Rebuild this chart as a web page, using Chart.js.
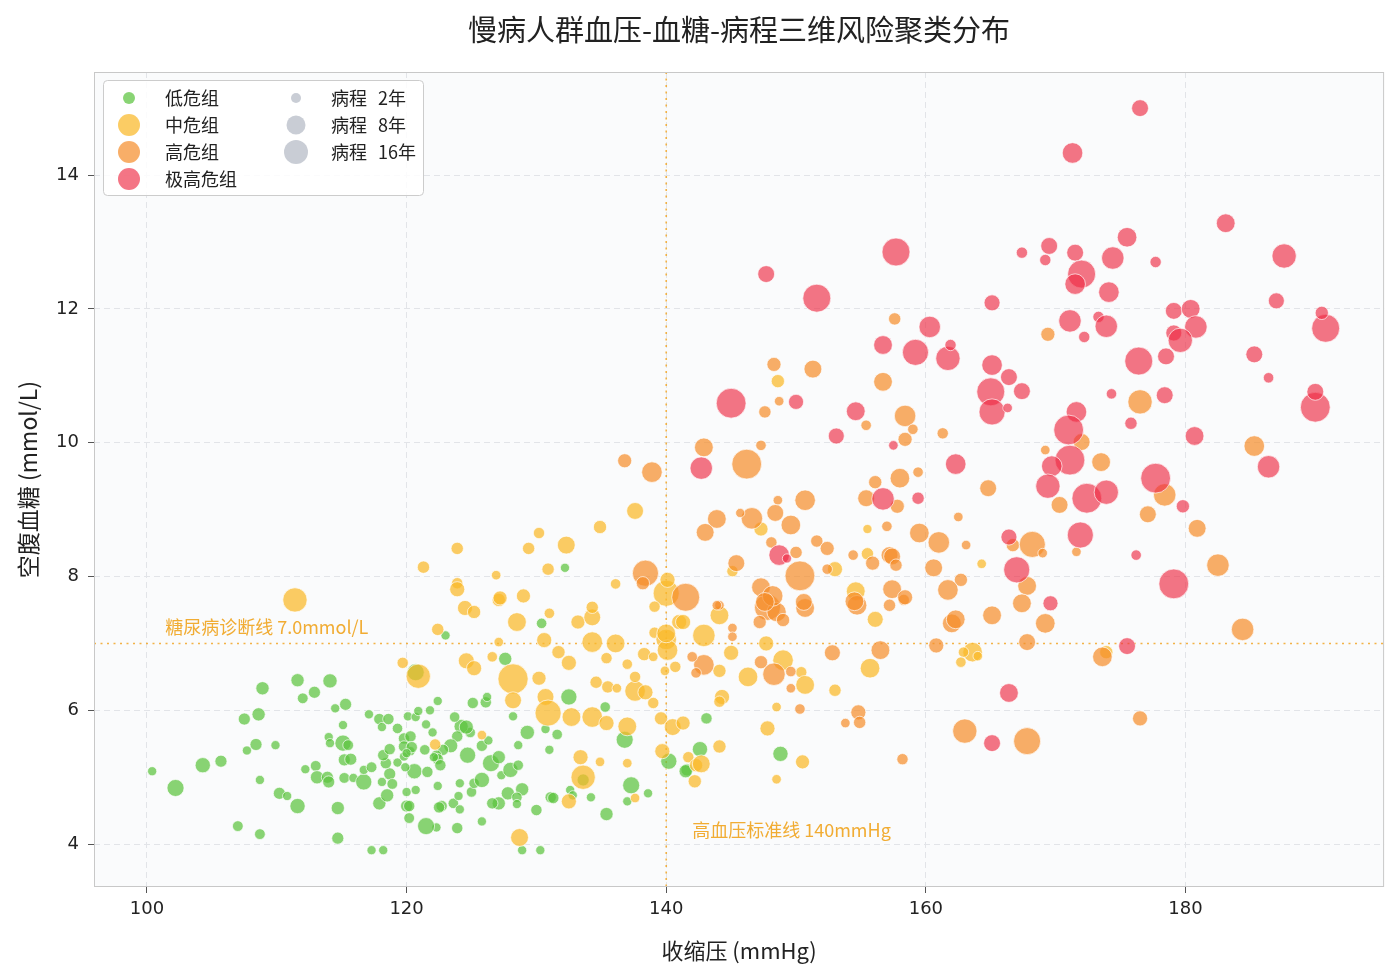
<!DOCTYPE html>
<html><head><meta charset="utf-8">
<script src="https://cdn.jsdelivr.net/npm/chart.js@4.4.1/dist/chart.umd.min.js"></script>
<style>html,body{margin:0;padding:0;background:#fff;}#wrap{width:1400px;height:978px;position:relative;}</style>
</head><body><div id="wrap"><canvas id="c"></canvas></div>
<script>
// [收缩压 mmHg, 空腹血糖 mmol/L, 病程 年]
const lowRisk = [
[100.4,5.09,1],[102.2,4.84,4.5],[104.3,5.18,3.5],[105.7,5.24,2],[107.0,4.27,1.5],[108.7,4.15,1.5],[107.7,5.40,1],[108.4,5.49,2],
[107.5,5.87,2],[108.6,5.94,2.5],[108.9,6.33,2.5],[109.9,5.48,1],[108.7,4.96,1],[110.2,4.76,2],[110.8,4.72,1],[111.6,4.57,3.5],
[111.6,6.45,2.5],[112.0,6.18,1.5],[112.9,6.27,2],[114.1,6.44,3],[114.5,6.03,1],[115.3,6.09,2],[115.1,5.78,1],[114.0,5.60,1],
[114.1,5.51,1],[115.1,5.51,4],[115.5,5.48,1.5],[115.2,5.26,2],[115.7,5.27,2],[112.2,5.12,1],[113.0,5.17,1.5],[113.1,5.00,2.5],
[113.9,5.00,2],[114.0,4.93,2],[115.2,4.99,1.5],[115.9,4.99,1],[116.7,4.93,4],[116.7,5.11,1],[117.3,5.15,1.5],[114.7,4.54,2.5],
[114.7,4.09,2],[117.3,3.91,1],[118.2,3.91,1],[117.9,4.61,2.5],[118.5,4.73,2.5],[118.1,4.93,1],[118.7,5.05,2],[118.9,4.90,1.5],
[120.0,4.57,2],[120.2,4.39,1.5],[120.0,4.78,1],[120.6,5.09,3.5],[119.3,5.22,1],[119.9,5.15,1],[118.4,5.21,1.7],[118.2,5.33,1.7],
[118.7,5.42,1.7],[119.8,5.58,1.7],[119.8,5.46,1.7],[119.8,5.31,1],[120.3,5.39,1],[119.3,5.73,1.4],[117.9,5.87,1.7],[118.6,5.87,1.7],
[118.1,5.75,1],[117.1,5.94,1],[120.1,5.91,1],[120.7,5.90,1],
[123.0,7.12,1],[130.4,7.30,1.4],[127.6,6.77,2.5],[132.5,6.20,4],[135.3,6.05,1.4],[122.4,6.14,1],[125.1,6.11,1.7],[126.1,6.12,1.7],
[126.2,6.20,1],[128.2,5.91,1],[129.3,5.67,3],[130.7,5.72,1],[131.6,5.64,1.4],[128.6,5.48,1],[131.0,5.41,1],[136.8,5.56,4.5],
[140.2,5.24,4],[141.6,5.11,2],[137.3,4.88,4.5],[138.6,4.76,1],[137.0,4.64,1],[135.4,4.45,2.5],[134.2,4.70,1],[132.6,4.81,1],
[132.8,4.73,1],[131.1,4.70,1.7],[131.3,4.69,1.7],[130.0,4.51,1.7],[128.9,3.91,1],[130.3,3.91,1],[128.9,4.82,2.5],[127.8,4.76,2.5],
[128.5,4.70,1.4],[127.1,4.61,2.5],[126.6,4.61,1.7],[125.8,4.34,1],[123.9,4.24,1.7],[122.3,4.25,1],[121.5,4.27,4.5],[120.2,4.57,1.7],
[122.7,4.57,1.7],[122.5,4.55,1.7],[123.6,4.61,1.4],[124.1,4.52,1],[125.0,4.78,1.4],[124.0,4.72,1],[124.1,4.91,1],[125.2,4.91,1.4],
[125.8,4.96,3.5],[126.5,5.21,4.5],[127.1,5.30,2.5],[127.3,5.03,1],[128.0,5.11,3.5],[128.6,5.18,1.4],[128.5,4.60,1],[124.7,5.33,4],
[124.9,5.67,1.4],[124.2,5.76,2.9],[124.6,5.75,2.9],[123.9,5.61,1.7],[123.7,5.90,1.4],[125.8,5.47,1.7],[126.3,5.55,1],[123.4,5.47,2.9],
[122.8,5.41,1.7],[122.3,5.33,1.4],[122.4,5.27,1.7],[122.6,5.18,1.7],[122.1,5.30,1],[121.4,5.41,1.4],[122.0,5.67,1],[121.5,5.79,1],
[121.8,6.00,1],[120.9,5.99,1],[120.3,5.61,1.7],[120.4,5.45,1.7],[121.6,5.08,1.7],[120.7,4.81,1],[122.4,4.87,1],[120.0,5.36,1],
[132.2,8.13,1],[120.7,6.57,4.5],[143.1,5.88,1.7],[142.6,5.42,3.5],[141.5,5.09,2.5],[148.8,5.35,3.5],[133.6,4.96,2]
];
const midRisk = [
[111.4,7.65,10],[120.9,6.51,10],[124.5,7.53,3.4],[125.2,7.47,2.5],[127.1,7.65,2.5],[128.5,7.32,5.6],[131.0,7.45,1.4],[122.4,7.21,2.1],
[127.1,7.02,1.1],[119.7,6.71,1.7],[124.6,6.74,3.9],[125.2,6.63,3.4],[126.6,6.80,1.4],[128.2,6.47,16],[128.2,6.15,4.4],[130.2,6.48,2.9],
[130.7,6.20,4.4],[130.9,5.96,11.7],[132.7,5.90,5.6],[134.3,5.90,6.9],[135.4,5.81,3.4],[137.0,5.76,5.6],[133.4,5.30,3.4],[133.6,5.00,10],
[134.9,5.23,1.1],[137.0,5.21,1.1],[132.5,4.64,3.4],[137.6,4.69,1.1],[128.7,4.10,5],[125.8,5.63,1.1],[122.2,5.49,1.7],[134.6,6.42,2.1],
[135.5,6.35,2.1],[136.2,6.33,1.1],[137.6,6.29,6.9],[138.4,6.27,3.4],[139.0,6.11,1.7],[137.6,6.50,1.7],[139.6,5.88,2.5],[140.5,5.75,4.4],
[141.3,5.81,2.9],[139.7,5.39,3.4],[141.7,5.30,1.7],[142.3,5.18,2.5],[142.2,4.94,2.5],[140.7,6.65,1.7],[139.9,6.59,1.1],[130.6,7.05,3.4],
[131.7,6.87,2.5],[133.2,7.32,2.9],[134.3,7.39,4.4],[134.3,7.54,2.1],[134.3,7.02,6.9],[135.4,6.78,1.7],[136.1,7.00,5.6],[137.0,6.69,1.4],
[138.3,6.84,2.5],[139.0,6.80,1.1],[139.1,7.16,1.7],[140.0,7.06,6.9],[140.1,6.90,6.9],[140.0,7.15,5.6],[141.0,7.32,3.4],[132.5,6.71,3.4],
[137.6,8.98,4.4],[134.9,8.74,2.5],[130.2,8.65,1.7],[129.4,8.42,2.1],[132.3,8.47,5],[123.9,8.42,2.1],[121.3,8.14,2.1],[126.9,8.02,1.1],
[130.9,8.11,2.1],[123.9,7.90,1.7],[123.9,7.81,3.4],[127.2,7.68,2.9],[129.0,7.71,2.9],[136.1,7.89,1.4],[140.0,7.75,11.7],[140.1,7.95,3.4],
[139.1,7.55,1.7],[144.1,7.42,5.6],[142.9,7.12,8.4],[141.3,7.32,3.4],[147.7,7.00,3.4],[145.0,6.86,3.4],[144.1,6.59,2.5],[146.3,6.50,6.2],
[149.0,6.75,6.9],[150.4,6.57,1.7],[150.7,6.38,5.6],[144.3,6.20,3.4],[144.1,6.13,1.7],[147.8,5.73,3.4],[148.5,6.05,1.1],[144.1,5.46,2.5],
[142.7,5.20,5],[148.5,4.97,1.1],[150.5,5.23,2.9],[155.7,6.63,6.2],[153.0,6.30,2.1],[156.1,7.36,3.9],[163.6,6.87,6.2],[162.9,6.87,1.4],
[164.0,6.81,1.1],[162.7,6.72,1.4],[148.6,10.92,2.5],[147.3,8.71,2.9],[164.3,8.19,1.1],[155.5,8.71,1],[155.5,8.34,2.1],[153.0,8.11,3.4],
[145.1,8.08,1.7],[154.6,7.78,5.6],[173.9,6.87,2.5]
];
const highRisk = [
[136.8,9.73,2.9],[138.9,9.56,6.9],[138.4,8.05,11.7],[138.2,7.90,2.5],[141.5,7.69,13.6],[144.1,7.57,1.1],[147.8,7.54,11.7],[148.5,7.47,6],
[150.7,7.53,5.6],[147.2,7.32,2.5],[149.0,7.35,2.5],[145.1,7.23,1.1],[145.1,7.10,1.1],[142.9,6.68,6.9],[142.0,6.80,1.4],[142.3,6.56,1.4],
[147.3,6.72,2.5],[148.3,6.54,8.4],[149.6,6.58,1.4],[149.6,6.33,1.1],[150.3,6.02,1.4],[152.8,6.86,3.9],[156.5,6.90,5.6],[154.8,5.97,3.4],
[154.9,5.82,2.1],[153.8,5.81,1.1],[158.2,5.27,1.7],[154.7,7.57,6.2],[157.2,7.57,2.1],[158.3,7.65,1.7],[162.0,7.30,5.6],[162.3,7.36,5.6],
[160.8,6.97,3.4],[163.0,5.69,10],[165.1,7.42,5.6],[148.3,11.17,2.9],[151.3,11.10,5],[156.7,10.91,5.6],[147.6,10.46,2.1],[148.7,10.62,1.1],
[155.4,10.26,1.4],[158.4,10.40,7.6],[159.0,10.20,1.4],[158.4,10.05,2.9],[161.3,10.14,1.7],[142.9,9.93,5.6],[146.2,9.68,15.6],[147.3,9.96,1.4],
[164.8,9.32,4.4],[158.0,9.47,6.2],[159.4,9.56,1.4],[156.1,9.41,2.5],[155.4,9.17,4.4],[157.8,9.05,2.9],[150.7,9.14,6.9],[148.6,9.14,1.1],
[148.4,8.95,4.4],[146.6,8.87,7.6],[145.7,8.95,1],[149.6,8.77,6.2],[143.9,8.86,5.6],[143.0,8.66,5],[159.5,8.65,6.2],[161.0,8.51,7.6],
[162.5,8.89,1.1],[163.1,8.47,1.1],[157.0,8.75,1.4],[151.6,8.53,2.1],[152.4,8.42,2.9],[154.4,8.32,1.4],[155.9,8.20,2.9],[157.2,8.32,4.4],
[157.4,8.30,4.4],[157.7,8.17,2.1],[152.4,8.11,1.4],[150.0,8.36,2.1],[150.3,8.01,15.6],[145.4,8.20,4.4],[148.1,8.51,1.7],[160.6,8.13,5],
[162.7,7.95,2.5],[161.7,7.80,6.9],[157.4,7.81,5.6],[158.4,7.69,3.4],[154.5,7.63,5.6],[150.6,7.62,4.4],[147.3,7.84,5.6],[148.2,7.71,6.9],
[147.6,7.62,5.6],[143.9,7.57,1.1],[166.7,8.47,2.5],[168.2,8.48,11.7],[169.0,8.35,1.1],[171.6,8.37,1.1],[167.8,7.86,5.6],[167.4,7.60,5.6],
[169.2,7.30,6.2],[167.8,7.02,4.4],[173.6,6.80,6.2],[182.5,8.17,8.4],[184.4,7.21,8.4],[167.8,5.54,12.6],[176.5,5.88,3.4],[172.0,10.01,4.4],
[169.2,9.89,1.1],[170.3,9.07,4.4],[173.5,9.71,5.6],[176.5,10.61,10],[178.4,9.22,8.4],[177.1,8.93,4.4],[180.9,8.72,5],[185.3,9.95,6.9],
[169.4,11.62,2.9],[157.6,11.85,2.1]
];
const veryHighRisk = [
[176.5,15.00,4.4],[171.3,14.33,6.9],[157.7,12.85,13.6],[147.7,12.52,4.4],[151.6,12.16,13.6],[183.1,13.28,5.6],[175.5,13.07,6.2],[169.5,12.94,4.4],
[167.4,12.84,1.7],[169.2,12.73,1.7],[171.5,12.84,4.4],[174.4,12.76,8.4],[172.0,12.52,13.6],[171.5,12.37,6.9],[177.7,12.70,1.7],[174.1,12.25,6.9],
[187.6,12.79,10],[187.0,12.12,3.9],[165.1,12.09,3.9],[160.3,11.73,7.6],[156.7,11.46,5.6],[159.2,11.35,11.7],[161.7,11.26,10],[161.9,11.46,1.7],
[171.1,11.82,8.4],[173.3,11.88,1.7],[173.9,11.74,8.4],[172.2,11.58,1.7],[176.4,11.22,13.6],[178.5,11.29,4.4],[179.1,11.97,4.4],[180.4,12.00,5.6],
[180.8,11.73,8.4],[179.1,11.64,3.9],[179.6,11.53,10],[185.3,11.32,4.4],[190.8,11.71,13.6],[190.5,11.94,2.5],[165.1,11.16,6.9],[165.0,10.76,13.6],
[165.1,10.46,11.7],[166.4,10.98,4.4],[167.4,10.77,4.4],[166.3,10.52,1.1],[171.6,10.46,6.9],[171.0,10.19,15.6],[171.1,9.74,15.6],[169.7,9.65,6.9],
[169.4,9.35,10],[172.4,9.17,15.6],[173.9,9.26,10],[174.3,10.73,1.4],[178.4,10.71,4.4],[175.8,10.29,2.1],[180.7,10.10,5.6],[177.7,9.47,15.6],
[179.8,9.05,2.5],[186.4,10.97,1.4],[190.0,10.53,15.6],[190.0,10.76,4.4],[186.4,9.64,8.4],[166.4,8.59,3.9],[171.9,8.62,11.7],[176.2,8.32,1.4],
[167.0,8.10,11.7],[169.6,7.60,3.4],[175.5,6.96,4.4],[179.1,7.89,15.6],[166.4,6.26,5.6],[165.1,5.51,4.4],[145.0,10.59,15.6],[150.0,10.61,3.4],
[154.6,10.47,5.6],[157.5,9.96,1.1],[153.1,10.10,3.9],[142.7,9.62,8.4],[162.3,9.68,6.9],[156.7,9.16,8.4],[159.4,9.17,2.1],[148.7,8.32,6.9],
[149.3,8.27,1]
];
const groupNames = ['低危组','中危组','高危组','极高危组'];
const durationLegend = [2, 8, 16];
const xTicks = [100,120,140,160,180];
const yTicks = [4,6,8,10,12,14];
const sbpThreshold = 140;
const fbgThreshold = 7.0;

const colors = ['rgba(92,196,62,0.72)','rgba(250,185,40,0.72)','rgba(245,140,40,0.70)','rgba(238,45,70,0.66)'];
const toPts = arr => arr.map(p => ({x:p[0], y:p[1], d:p[2]}));
const radiusOf = d => 1.1 + 3.5*Math.sqrt(d);
const groups = [lowRisk, midRisk, highRisk, veryHighRisk];
const CJK = '"Noto Sans CJK SC","DejaVu Sans",sans-serif';

const datasets = groups.map((g,i) => ({
  label: groupNames[i],
  data: toPts(g),
  backgroundColor: colors[i],
  borderColor: 'rgba(255,255,255,0.85)',
  borderWidth: 0.8,
  pointRadius: ctx => radiusOf(ctx.raw.d),
  pointHoverRadius: ctx => radiusOf(ctx.raw.d),
  order: 4 - i
}));

const deco = {
  id: 'deco',
  beforeDraw(chart) {
    const {ctx, chartArea:a} = chart;
    ctx.save();
    ctx.fillStyle = '#fafbfc';
    ctx.fillRect(a.left, a.top, a.right-a.left, a.bottom-a.top);
    ctx.restore();
  },
  beforeDatasetsDraw(chart) {
    const {ctx, chartArea:a, scales:{x,y}} = chart;
    ctx.save();
    ctx.strokeStyle = 'rgba(242,170,50,0.9)';
    ctx.lineWidth = 1.6;
    ctx.setLineDash([2,4.5]);
    const px = x.getPixelForValue(sbpThreshold);
    const py = y.getPixelForValue(fbgThreshold);
    ctx.beginPath(); ctx.moveTo(px, a.top); ctx.lineTo(px, a.bottom); ctx.stroke();
    ctx.beginPath(); ctx.moveTo(a.left, py); ctx.lineTo(a.right, py); ctx.stroke();
    ctx.restore();
  },
  afterDraw(chart) {
    const {ctx, chartArea:a, scales:{x,y}} = chart;
    ctx.save();
    ctx.strokeStyle = '#c8c8c8'; ctx.lineWidth = 1; ctx.setLineDash([]);
    ctx.strokeRect(a.left+0.5, a.top+0.5, a.right-a.left-1, a.bottom-a.top-1);
    ctx.fillStyle = 'rgba(240,168,40,0.95)';
    ctx.font = '18px ' + CJK;
    ctx.textAlign = 'left'; ctx.textBaseline = 'middle';
    ctx.fillText('糖尿病诊断线 7.0mmol/L', x.getPixelForValue(101.4), y.getPixelForValue(fbgThreshold) - 16);
    ctx.fillText('高血压标准线 140mmHg', x.getPixelForValue(142.0), y.getPixelForValue(4.21));
    ctx.fillStyle = '#222';
    ctx.font = '29px ' + CJK;
    ctx.textAlign = 'center';
    ctx.fillText('慢病人群血压-血糖-病程三维风险聚类分布', (a.left+a.right)/2, 30);
    const lx = 103, ly = 80, lw = 320, lh = 115;
    ctx.beginPath();
    if (ctx.roundRect) ctx.roundRect(lx+0.5, ly+0.5, lw, lh, 4); else ctx.rect(lx+0.5, ly+0.5, lw, lh);
    ctx.fillStyle = 'rgba(255,255,255,0.85)'; ctx.fill();
    ctx.strokeStyle = '#cccccc'; ctx.lineWidth = 1; ctx.stroke();
    const rows = [98,125,152,179];
    const gR = [6,11,11,11];
    ctx.font = '18px ' + CJK; ctx.textAlign = 'left'; ctx.textBaseline = 'middle';
    groupNames.forEach((n,i) => {
      ctx.beginPath(); ctx.arc(129, rows[i], gR[i], 0, Math.PI*2);
      ctx.fillStyle = colors[i]; ctx.fill();
      ctx.fillStyle = '#222'; ctx.fillText(n, 165, rows[i]);
    });
    const dR = [5, 9.5, 12];
    durationLegend.forEach((d,i) => {
      ctx.beginPath(); ctx.arc(296, rows[i], dR[i], 0, Math.PI*2);
      ctx.fillStyle = 'rgba(165,172,185,0.6)'; ctx.fill();
      ctx.fillStyle = '#222';
      ctx.fillText('病程', 331, rows[i]);
      ctx.fillText(d + '年', 378, rows[i]);
    });
    ctx.restore();
  }
};

new Chart(document.getElementById('c'), {
  type: 'scatter',
  data: { datasets },
  options: {
    responsive: true, maintainAspectRatio: false, animation: false,
    devicePixelRatio: 1,
    layout: { padding: { top: 72, right: 15, left: 0, bottom: 0 } },
    plugins: { legend: { display: false }, tooltip: { enabled: false }, title: { display: false } },
    scales: {
      x: {
        type: 'linear', min: 95.92, max: 195.3,
        afterBuildTicks: s => { s.ticks = xTicks.map(v => ({value: v})); },
        afterFit: s => { s.height = 91; },
        ticks: { font: { family: 'DejaVu Sans', size: 18 }, color: '#222', padding: 6 },
        grid: { color: '#e2e4e8', lineWidth: 1, tickColor: '#555', tickLength: 6, tickWidth: 1 },
        border: { display: false, dash: [6,4] },
        title: { display: true, text: '收缩压 (mmHg)', font: { family: 'Noto Sans CJK SC', size: 22 }, color: '#222', padding: { top: 4, bottom: 14 } }
      },
      y: {
        type: 'linear', min: 3.36, max: 15.54,
        afterBuildTicks: s => { s.ticks = yTicks.map(v => ({value: v})); },
        afterFit: s => { s.width = 94; },
        ticks: { font: { family: 'DejaVu Sans', size: 18 }, color: '#222', padding: 9 },
        grid: { color: '#e2e4e8', lineWidth: 1, tickColor: '#555', tickLength: 6, tickWidth: 1 },
        border: { display: false, dash: [6,4] },
        title: { display: true, text: '空腹血糖 (mmol/L)', font: { family: 'Noto Sans CJK SC', size: 23 }, color: '#222', padding: { top: 14, bottom: 4 } }
      }
    }
  },
  plugins: [deco]
});
</script></body></html>
